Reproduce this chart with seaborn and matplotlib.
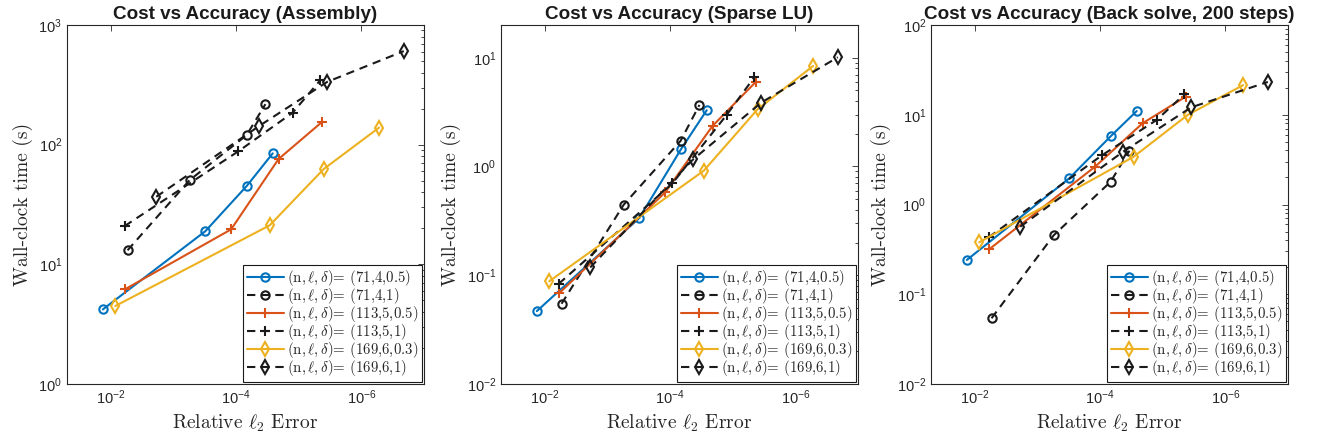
import matplotlib
matplotlib.use('Agg')
import matplotlib.pyplot as plt
import seaborn as sns
import numpy as np
from matplotlib.ticker import LogLocator, NullLocator
from matplotlib.font_manager import FontProperties

# series: (n, l, delta)
params = ['(71,4,0.5)', '(71,4,1)', '(113,5,0.5)', '(113,5,1)', '(169,6,0.3)', '(169,6,1)']
colors = ['#0072BD', 'k', '#D95319', 'k', '#EDB120', 'k']
markers = ['o', 'o', '+', '+', 'd', 'd']
styles = ['-', '--', '-', '--', '-', '--']

# relative l2 error (same runs in every panel)
errors = [
    [1.34e-2, 3.1e-4, 6.7e-5, 2.6e-5],
    [5.4e-3, 5.5e-4, 6.8e-5, 3.4e-5],
    [5.9e-3, 1.2e-4, 2.1e-5, 4.3e-6],
    [6.0e-3, 9.2e-5, 1.25e-5, 4.5e-6],
    [8.5e-3, 2.9e-5, 4.0e-6, 5.2e-7],
    [1.88e-3, 4.3e-5, 3.5e-6, 2.1e-7],
]

# wall-clock times (s)
t_assembly = [
    [4.2, 18.9, 45.4, 84.6],
    [13.1, 50.6, 120, 218],
    [6.2, 19.6, 75.8, 154],
    [20.9, 88, 185, 347],
    [4.48, 21.2, 62.5, 139],
    [36.7, 143, 335, 605],
]
t_sparse_lu = [
    [0.0468, 0.336, 1.44, 3.29],
    [0.0547, 0.445, 1.72, 3.68],
    [0.0684, 0.577, 2.36, 5.98],
    [0.0834, 0.698, 2.98, 6.65],
    [0.088, 0.914, 3.36, 8.4],
    [0.118, 1.16, 3.87, 10.1],
]
t_backsolve = [
    [0.241, 1.96, 5.8, 11.0],
    [0.054, 0.454, 1.79, 3.97],
    [0.317, 2.64, 8.03, 15.9],
    [0.431, 3.56, 8.74, 16.9],
    [0.379, 3.41, 9.94, 21.4],
    [0.566, 3.87, 12.1, 23.2],
]

titles = ['Cost vs Accuracy (Assembly)', 'Cost vs Accuracy (Sparse LU)',
          'Cost vs Accuracy (Back solve, 200 steps)']
ylims = [(1, 1e3), (1e-2, 20), (1e-2, 1e2)]

sns.set_theme(style='white')
plt.rcParams['font.family'] = ['Liberation Sans', 'DejaVu Sans']
plt.rcParams['mathtext.fontset'] = 'custom'
plt.rcParams['mathtext.rm'] = 'Liberation Sans'
plt.rcParams['mathtext.it'] = 'Liberation Sans:italic'
plt.rcParams['mathtext.bf'] = 'Liberation Sans:bold'

axis_col = '#262626'
cm_font = FontProperties(family='cmr10', size=10.7, math_fontfamily='cm')

fig, axes = plt.subplots(1, 3, figsize=(13.2, 4.43), dpi=100)
lefts = [67, 501, 931]

for ax, left, times, title, ylim in zip(axes, lefts, [t_assembly, t_sparse_lu, t_backsolve], titles, ylims):
    ax.set_position([left / 1320, 59 / 443, 357 / 1320, 359 / 443])
    for i in range(len(params)):
        ms = 7 if markers[i] != 'o' else 6
        sns.lineplot(x=errors[i], y=times[i], ax=ax, sort=False, estimator=None,
                     color=colors[i], marker=markers[i], linestyle=styles[i],
                     lw=1.5, ms=ms, mfc='none', mec=colors[i], mew=1.5,
                     label=r'$(\mathrm{n},\ell,\delta)$= ' + params[i])
        if styles[i] == '--':
            ax.lines[-1].set_dashes((4, 2.8))
    ax.set_xscale('log')
    ax.set_yscale('log')
    ax.set_xlim(5e-2, 1e-7)
    ax.set_ylim(*ylim)
    ax.set_xticks([1e-2, 1e-4, 1e-6])
    ax.xaxis.set_minor_locator(NullLocator())
    ax.yaxis.set_major_locator(LogLocator(base=10))
    ax.yaxis.set_minor_locator(LogLocator(base=10, subs=np.arange(2, 10)))
    ax.tick_params(which='both', direction='in', top=True, right=True,
                   colors=axis_col, width=0.6)
    ax.tick_params(which='major', length=4, labelsize=10.5, labelcolor=axis_col)
    ax.tick_params(which='minor', length=2.5)
    for sp in ax.spines.values():
        sp.set_color(axis_col)
        sp.set_linewidth(0.8)
    ax.set_title(title, fontsize=13.6, fontweight='bold', color='k', pad=4)
    ax.set_xlabel(r'Relative $\ell_2$ Error', fontfamily='cmr10', math_fontfamily='cm',
                  fontsize=14, color=axis_col)
    ax.set_ylabel('Wall-clock time (s)', fontfamily='cmr10', fontsize=14, color=axis_col)
    handles, labels = ax.get_legend_handles_labels()
    leg = ax.legend(handles, labels, loc='lower right', prop=cm_font, frameon=True,
                    fancybox=False, framealpha=1, edgecolor='k', borderaxespad=0.15,
                    handlelength=2.5, handletextpad=0.2, labelspacing=-0.14, borderpad=0.25)
    leg.get_frame().set_linewidth(0.8)

fig.savefig('out.png', dpi=100)
